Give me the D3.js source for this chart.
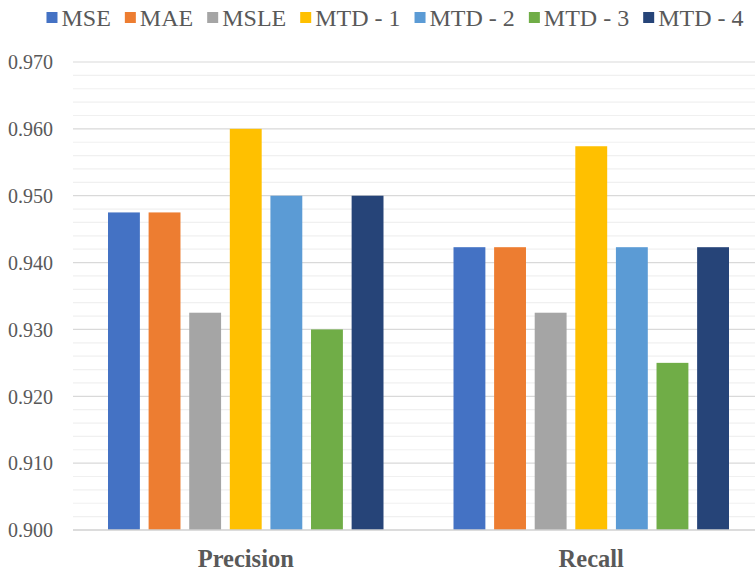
<!DOCTYPE html>
<html>
<head>
<meta charset="utf-8">
<script src="https://cdn.jsdelivr.net/npm/d3@7"></script>
<style>
  html, body { margin: 0; padding: 0; background: #fff; }
  svg { display: block; }
  svg text { font-family: "Liberation Serif", "DejaVu Serif", serif !important; }
</style>
</head>
<body>
<svg id="chart" width="755" height="574"></svg>
<script>
// Metric groups and the loss functions compared
const categories = ["Precision", "Recall"];
const seriesNames = ["MSE", "MAE", "MSLE", "MTD - 1", "MTD - 2", "MTD - 3", "MTD - 4"];
const seriesColors = ["#4472C4", "#ED7D31", "#A5A5A5", "#FFC000", "#5B9BD5", "#70AD47", "#264478"];
const precisionValues = [0.9475, 0.9475, 0.9325, 0.960, 0.950, 0.930, 0.950];
const recallValues = [0.9423, 0.9423, 0.9325, 0.9574, 0.9423, 0.925, 0.9423];
const yTicks = [0.900, 0.910, 0.920, 0.930, 0.940, 0.950, 0.960, 0.970];
const yMinorTicks = d3.range(0, 36).map(i => +(0.900 + i * 0.002).toFixed(3));

const valuesByCategory = [precisionValues, recallValues];

const svg = d3.select("#chart");
const W = 755, H = 574;
const plot = { left: 73, right: 764, top: 62, bottom: 530 };
const FONT = "'Liberation Serif', 'DejaVu Serif', serif";

const y = d3.scaleLinear().domain([0.900, 0.970]).range([plot.bottom, plot.top]);
const x0 = d3.scaleBand().domain(categories).range([plot.left, plot.right]).paddingInner(0).paddingOuter(0);
const x1 = d3.scaleBand().domain(seriesNames).range([35, x0.bandwidth() - 35]).paddingInner(0.215).paddingOuter(0);

svg.append("defs").append("clipPath").attr("id", "area")
  .append("rect").attr("x", 0).attr("y", 0).attr("width", W).attr("height", H);

const g = svg.append("g").attr("clip-path", "url(#area)");

// minor gridlines
g.append("g").selectAll("line").data(yMinorTicks.filter(v => Math.round(v * 1000) % 10 !== 0))
  .join("line")
  .attr("x1", plot.left).attr("x2", plot.right)
  .attr("y1", d => y(d)).attr("y2", d => y(d))
  .attr("stroke", "#f0f0f0").attr("stroke-width", 1.2);

// major gridlines
g.append("g").selectAll("line").data(yTicks.slice(1))
  .join("line")
  .attr("x1", plot.left).attr("x2", plot.right)
  .attr("y1", d => y(d)).attr("y2", d => y(d))
  .attr("stroke", "#d9d9d9").attr("stroke-width", 1.2);

// y axis labels
const yAxis = d3.axisLeft(y).tickValues(yTicks).tickFormat(d3.format(".3f")).tickSize(0).tickPadding(0);
const yAxisG = svg.append("g").attr("transform", "translate(53,0)").call(yAxis)
  .attr("font-family", FONT);
yAxisG.select(".domain").remove();
yAxisG.selectAll("text")
  .attr("font-size", 20).attr("fill", "#595959").attr("dy", "0.34em");

// bars
const groups = g.append("g").selectAll("g").data(categories)
  .join("g")
  .attr("transform", d => `translate(${x0(d)},0)`);

groups.selectAll("rect")
  .data((c, ci) => seriesNames.map((s, si) => ({ s, si, v: valuesByCategory[ci][si] })))
  .join("rect")
  .attr("x", d => x1(d.s))
  .attr("width", x1.bandwidth())
  .attr("y", d => y(d.v))
  .attr("height", d => y(0.900) - y(d.v))
  .attr("fill", d => seriesColors[d.si]);

// baseline
g.append("line")
  .attr("x1", plot.left).attr("x2", plot.right)
  .attr("y1", y(0.900)).attr("y2", y(0.900))
  .attr("stroke", "#d0d0d0").attr("stroke-width", 1.5);

// category labels
const xAxis = d3.axisBottom(x0).tickSize(0).tickPadding(0);
const xAxisG = svg.append("g").attr("transform", `translate(0,${plot.bottom})`).call(xAxis)
  .attr("font-family", FONT);
xAxisG.select(".domain").remove();
xAxisG.selectAll("text")
  .attr("font-size", 24.5).attr("font-weight", "bold").attr("fill", "#595959")
  .attr("y", 37).attr("dy", 0);

// legend
const legend = svg.append("g").attr("font-family", FONT);
const items = legend.selectAll("g").data(seriesNames).join("g");
items.append("rect").attr("width", 11).attr("height", 11).attr("y", -14)
  .attr("fill", (d, i) => seriesColors[i]);
items.append("text").attr("x", 15).attr("y", 0)
  .attr("font-size", 24).attr("fill", "#595959").text(d => d);
let cx = 0;
items.each(function () {
  const w = d3.select(this).select("text").node().getComputedTextLength();
  d3.select(this).attr("transform", `translate(${cx},0)`);
  cx += 15 + w + 14;
});
const total = cx - 14;
legend.attr("transform", `translate(${395 - total / 2},26)`);
</script>
</body>
</html>
